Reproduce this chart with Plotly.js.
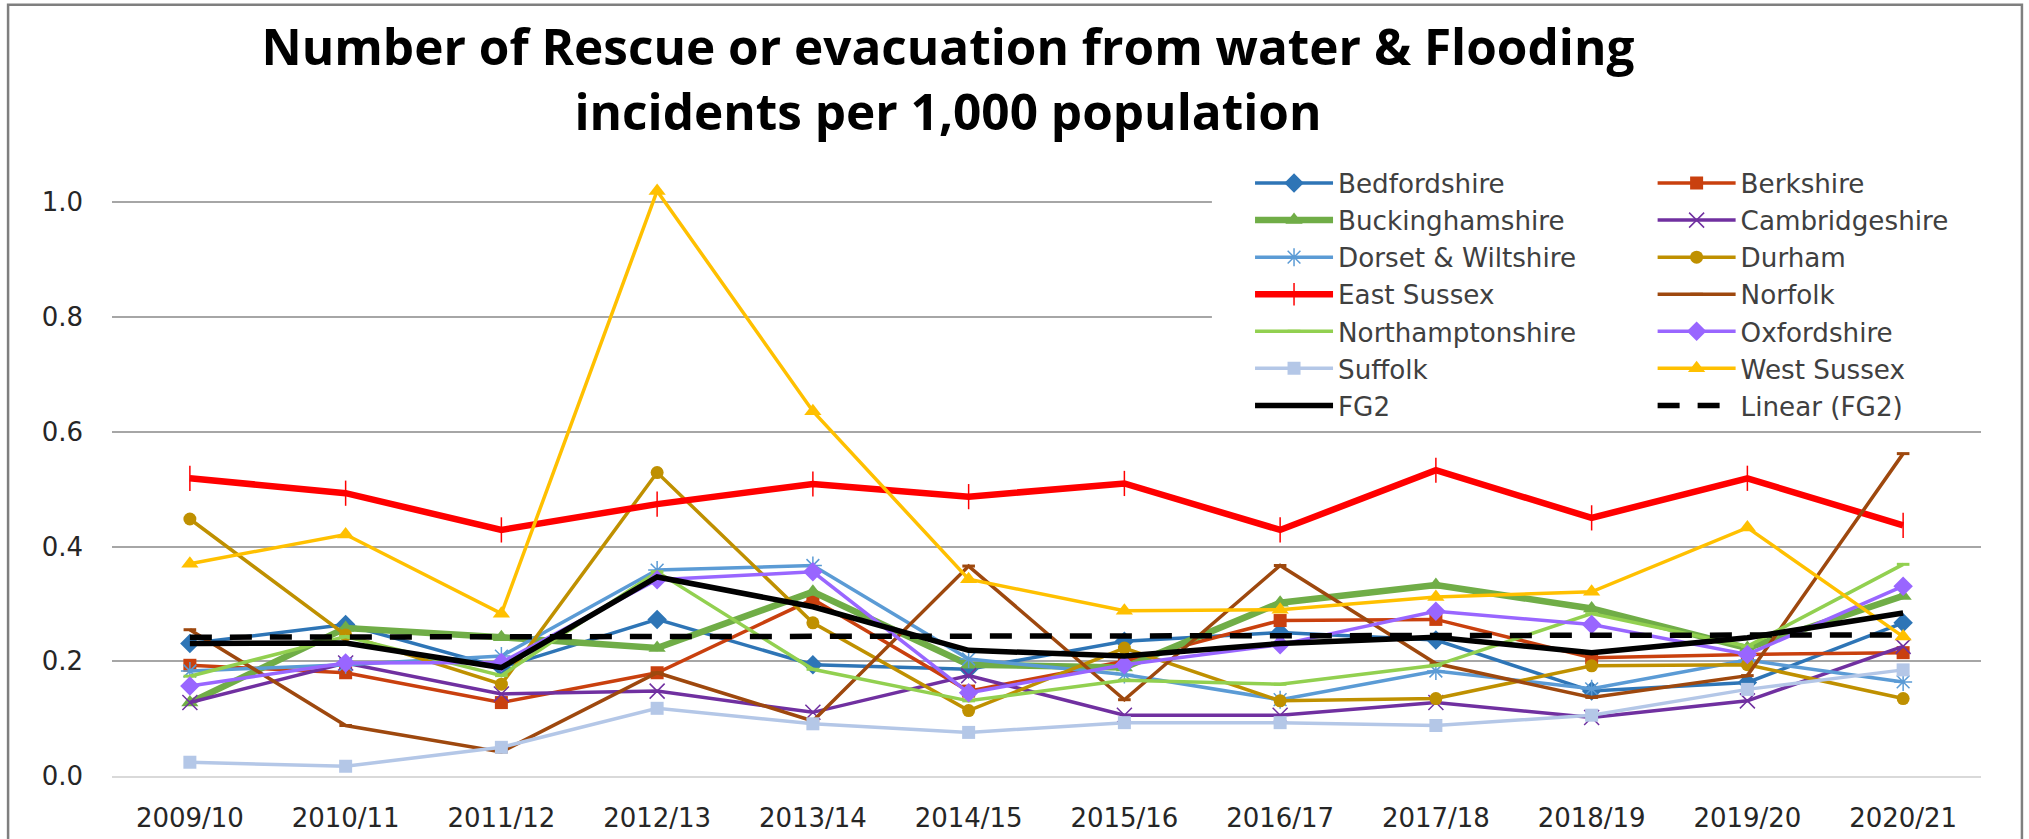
<!DOCTYPE html>
<html>
<head>
<meta charset="utf-8">
<script src="https://cdn.plot.ly/plotly-3.0.1.min.js"></script>
<style>
  html, body { margin: 0; padding: 0; background: #ffffff; }
  #chart { width: 2029px; height: 839px; }
</style>
</head>
<body>
<div id="chart"></div>
<script>
// ---- Data ----
const categories = ['2009/10', '2010/11', '2011/12', '2012/13', '2013/14', '2014/15',
                    '2015/16', '2016/17', '2017/18', '2018/19', '2019/20', '2020/21'];

const bedfordshire     = [0.231, 0.264, 0.189, 0.273, 0.194, 0.186, 0.235, 0.250, 0.237, 0.148, 0.163, 0.267];
const berkshire        = [0.193, 0.180, 0.128, 0.180, 0.308, 0.148, 0.200, 0.271, 0.273, 0.206, 0.212, 0.215];
const buckinghamshire  = [0.128, 0.258, 0.242, 0.223, 0.321, 0.194, 0.189, 0.302, 0.333, 0.292, 0.223, 0.314];
const cambridgeshire   = [0.128, 0.197, 0.143, 0.148, 0.111, 0.175, 0.106, 0.106, 0.128, 0.102, 0.131, 0.226];
const dorsetWiltshire  = [0.183, 0.194, 0.209, 0.359, 0.367, 0.204, 0.177, 0.133, 0.183, 0.152, 0.202, 0.164];
const durham           = [0.448, 0.246, 0.160, 0.529, 0.267, 0.114, 0.223, 0.131, 0.135, 0.192, 0.194, 0.135];
const eastSussex       = [0.519, 0.493, 0.429, 0.474, 0.509, 0.487, 0.510, 0.429, 0.533, 0.450, 0.519, 0.437];
const norfolk          = [0.255, 0.088, 0.042, 0.180, 0.096, 0.366, 0.133, 0.367, 0.196, 0.137, 0.175, 0.562];
const northamptonshire = [0.174, 0.243, 0.175, 0.356, 0.186, 0.131, 0.167, 0.160, 0.193, 0.283, 0.226, 0.369];
const oxfordshire      = [0.157, 0.197, 0.198, 0.342, 0.356, 0.145, 0.194, 0.229, 0.287, 0.264, 0.212, 0.331];
const suffolk          = [0.024, 0.017, 0.050, 0.118, 0.091, 0.076, 0.093, 0.093, 0.088, 0.106, 0.151, 0.185];
const westSussex       = [0.370, 0.421, 0.283, 1.020, 0.636, 0.343, 0.288, 0.290, 0.312, 0.321, 0.433, 0.243];
const fg2              = [0.231, 0.232, 0.189, 0.347, 0.295, 0.219, 0.209, 0.231, 0.242, 0.215, 0.241, 0.284];
// Linear trendline of FG2 as drawn: values at first and last category
const linearFG2Cats    = ['2009/10', '2020/21'];
const linearFG2        = [0.242, 0.246];

const yTickValues = [0.0, 0.2, 0.4, 0.6, 0.8, 1.0];
const titleText = 'Number of Rescue or evacuation from water &amp; Flooding<br>incidents per 1,000 population';

// ---- Styling ----
const TITLE_FONT = '"Open Sans", Lato, "DejaVu Sans", sans-serif';
const FONT = '"DejaVu Sans", "Open Sans", sans-serif';

function series(name, y, color, width, symbol, msize, legend, extra) {
  const t = {
    type: 'scatter', mode: 'lines+markers', name: name,
    x: categories, y: y,
    line: { color: color, width: width },
    marker: { symbol: symbol, size: msize, color: color, line: { color: color, width: 0 } },
    legend: legend, legendgroup: name,
    cliponaxis: false
  };
  if (extra) Object.assign(t.marker, extra);
  return t;
}

const data = [
  series('Bedfordshire', bedfordshire, '#2E75B6', 3.5, 'diamond', 15, 'legend'),
  series('Berkshire', berkshire, '#C9400E', 3.5, 'square', 13, 'legend2'),
  series('Buckinghamshire', buckinghamshire, '#70AD47', 6.5, 'triangle-up', 15, 'legend'),
  series('Cambridgeshire', cambridgeshire, '#7030A0', 3.5, 'x-thin-open', 15, 'legend2',
         { line: { color: '#9B6BD6', width: 1.5 } }),
  series('Dorset &amp; Wiltshire', dorsetWiltshire, '#5B9BD5', 3.5, 'asterisk-open', 15, 'legend',
         { line: { color: '#5B9BD5', width: 1.5 } }),
  series('Durham', durham, '#BF9000', 3.5, 'circle', 13, 'legend2'),
  series('East Sussex', eastSussex, '#FF0000', 6.5, 'line-ns-open', 18, 'legend',
         { line: { color: '#FF0000', width: 1.5 } }),
  series('Norfolk', norfolk, '#9E480E', 3.5, 'line-ew-open', 9, 'legend2',
         { line: { color: '#9E480E', width: 3 } }),
  series('Northamptonshire', northamptonshire, '#92D050', 3.5, 'line-ew-open', 9, 'legend',
         { line: { color: '#92D050', width: 3 } }),
  series('Oxfordshire', oxfordshire, '#9966FF', 3.5, 'diamond', 15, 'legend2'),
  series('Suffolk', suffolk, '#B4C7E7', 3.5, 'square', 13, 'legend'),
  series('West Sussex', westSussex, '#FFC000', 3.5, 'triangle-up', 15, 'legend2'),
  {
    type: 'scatter', mode: 'lines', name: 'FG2', x: categories, y: fg2,
    line: { color: '#000000', width: 5.5 }, legend: 'legend', legendgroup: 'FG2'
  },
  {
    type: 'scatter', mode: 'lines', name: 'Linear (FG2)', x: linearFG2Cats, y: linearFG2,
    line: { color: '#000000', width: 5.5, dash: '22px,18px' }, legend: 'legend2', legendgroup: 'Linear (FG2)'
  }
];

const legendCommon = {
  orientation: 'v', xanchor: 'left', yanchor: 'top',
  bgcolor: 'rgba(255,255,255,0)', borderwidth: 0,
  font: { family: FONT, size: 26.2, color: '#404040' },
  traceorder: 'grouped', tracegroupgap: 0,
  itemwidth: 78, itemsizing: 'trace'
};

// plot area in pixels: x 112..1981, y 144.5..776.5
const layout = {
  width: 2029, height: 839,
  margin: { l: 112, r: 48, t: 144.5, b: 62.5 },
  paper_bgcolor: '#ffffff', plot_bgcolor: '#ffffff',
  font: { family: FONT, size: 26, color: '#262626' },
  title: {
    text: titleText,
    font: { family: TITLE_FONT, size: 49.5, color: '#000000', weight: 'bold' },
    x: 0.4672, xref: 'container', xanchor: 'center',
    y: 0.922, yref: 'container', yanchor: 'top'
  },
  xaxis: {
    type: 'category', categoryorder: 'array', categoryarray: categories,
    range: [-0.5, categories.length - 0.5],
    showgrid: false, zeroline: false,
    showline: true, linecolor: '#D9D9D9', linewidth: 2,
    ticks: '', ticklabelstandoff: 18,
    tickfont: { family: FONT, size: 26, color: '#262626' }
  },
  yaxis: {
    range: [0, 1.1], tickvals: yTickValues, tickformat: '.1f',
    showgrid: true, gridcolor: '#A6A6A6', gridwidth: 2,
    zeroline: false, showline: false,
    ticks: '', ticklabelstandoff: 28,
    tickfont: { family: FONT, size: 26, color: '#262626' }
  },
  showlegend: true,
  legend: Object.assign({}, legendCommon, { x: 0.6089, y: 0.977 }),
  legend2: Object.assign({}, legendCommon, { x: 0.8243, y: 0.977 }),
  shapes: [
    // white legend backdrop (hides gridlines behind the legend)
    { type: 'rect', xref: 'paper', yref: 'paper',
      x0: 0.5885, x1: 1.0, y0: 0.5557, y1: 0.976,
      line: { width: 0 }, fillcolor: '#ffffff', layer: 'above' },
    // outer chart frame
    { type: 'rect', xref: 'paper', yref: 'paper',
      x0: -0.0556, x1: 1.0219, y0: -0.2, y1: 1.2223,
      line: { color: '#7F7F7F', width: 2.5 }, fillcolor: 'rgba(0,0,0,0)', layer: 'above' }
  ]
};

Plotly.newPlot('chart', data, layout, { staticPlot: true, displayModeBar: false });
</script>
</body>
</html>
